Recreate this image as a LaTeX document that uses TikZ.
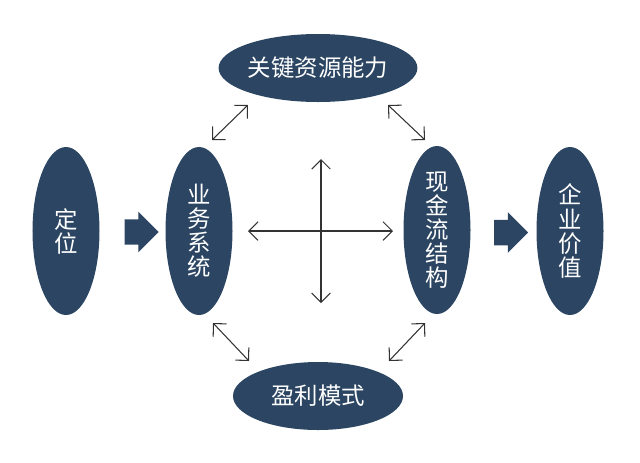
\documentclass[tikz,border=0pt]{standalone}
\usepackage{fontspec}
\newfontfamily\cjk{Noto Sans CJK SC}
\usepackage{xcolor}
\definecolor{mainDark}{HTML}{2B4562}
\definecolor{lineGray}{HTML}{333333}
\usepackage{tikz}
\usetikzlibrary{shapes,arrows,positioning,calc,arrows.meta}
\tikzset{%
  tallEllipse/.style={%
    ellipse,
    fill=mainDark,
    text=white,
    minimum width=2.01cm,
    minimum height=5.04cm,
    inner sep=0pt,
    align=center,
    font=\cjk\fontsize{20}{20.5}\selectfont
  },
  wideEllipse/.style={%
    ellipse,
    fill=mainDark,
    text=white,
    minimum width=5.1cm,
    minimum height=2.04cm,
    inner sep=0pt,
    align=center,
    font=\cjk\fontsize{20}{20.5}\selectfont
  },
  blockArrow/.style={%
    single arrow,
    fill=mainDark,
    inner xsep=0pt,
    inner ysep=0.375cm,
    minimum height=1.02cm,
    single arrow head extend=0.225cm
  },
  linkLine/.style={%
    {Straight Barb[length=2.8mm,width=5.6mm]}-{Straight Barb[length=2.8mm,width=5.6mm]},
    line width=0.9pt,
    color=lineGray
  }
}
\begin{document}
\begin{tikzpicture}[x=0.03cm,y=-0.03cm]
            \useasboundingbox (0,0) rectangle (640,462);
            \node[tallEllipse] (pos) at (66,231) {定\\位};
            \node[tallEllipse] (biz) at (199,231) {业\\务\\系\\统};
            \node[tallEllipse] (cash) at (437,230) {现\\金\\流\\结\\构};
            \node[tallEllipse] (value) at (570,231) {企\\业\\价\\值};
            \node[wideEllipse] (key) at (318,68) {关键资源能力};
            \node[wideEllipse] (profit) at (318,396) {盈利模式};

            \node[blockArrow] (posToBiz) at ($(pos)!0.52!(biz)+(0,1)$) {};
            \node[blockArrow] (cashToValue) at ($(cash)!0.51!(value)+(0,2)$) {};

            % ends of the links
            \coordinate (bizKeyA) at (212,140);
            \coordinate (bizKeyB) at (248,105);
            \coordinate (keyCashA) at (388,105);
            \coordinate (keyCashB) at (425,140);
            \coordinate (bizProfitA) at (213,323);
            \coordinate (bizProfitB) at (249,361);
            \coordinate (profitCashA) at (389,361);
            \coordinate (profitCashB) at (425,323);
            \coordinate (crossW) at (248,231);
            \coordinate (crossE) at (393,231);
            \coordinate (crossN) at (321,159);
            \coordinate (crossS) at (321,303);

            \draw[linkLine] (bizKeyA) -- (bizKeyB);
            \draw[linkLine] (keyCashA) -- (keyCashB);
            \draw[linkLine] (bizProfitA) -- (bizProfitB);
            \draw[linkLine] (profitCashA) -- (profitCashB);
            \draw[linkLine] (crossW) -- (crossE);
            \draw[linkLine] (crossN) -- (crossS);
        \end{tikzpicture}
\end{document}
